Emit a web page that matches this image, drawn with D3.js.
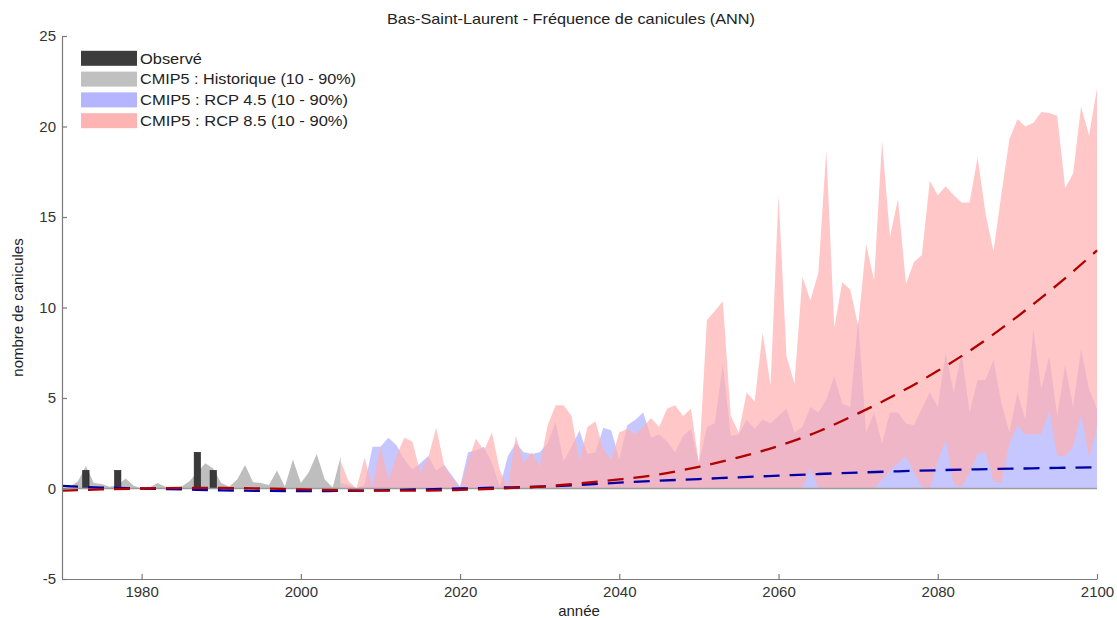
<!DOCTYPE html>
<html>
<head>
<meta charset="utf-8">
<script src="https://cdn.jsdelivr.net/npm/d3@7"></script>
<style>
  html, body { margin: 0; padding: 0; background: #fff; }
  svg { display: block; font-family: "Liberation Sans", Arial, Helvetica, sans-serif; }
</style>
</head>
<body>
<svg id="chart" width="1117" height="618"></svg>
<script>
// ---------------- DATA ----------------
const title = "Bas-Saint-Laurent - Fréquence de canicules (ANN)";
const xLabel = "année";
const yLabel = "nombre de canicules";
const xTicks = [1980, 2000, 2020, 2040, 2060, 2080, 2100];
const yTicks = [-5, 0, 5, 10, 15, 20, 25];

const legendLabels = ["Observé", "CMIP5 : Historique (10 - 90%)", "CMIP5 : RCP 4.5 (10 - 90%)", "CMIP5 : RCP 8.5 (10 - 90%)"];

// Observed heat waves
const obsYears  = [1973, 1977, 1987, 1989];
const obsValues = [1, 1, 2, 1];

// Historical CMIP5 10-90% band
const histYears = [1970,1971,1972,1973,1974,1975,1976,1977,1978,1979,
                   1980,1981,1982,1983,1984,1985,1986,1987,1988,1989,
                   1990,1991,1992,1993,1994,1995,1996,1997,1998,1999,
                   2000,2001,2002,2003,2004,2005];
const histUpper = [0.0,0.1,0.4,1.25,0.3,0.25,0.1,0.2,0.55,0.15,
                   0.0,0.05,0.3,0.1,0.05,0.1,0.4,0.9,1.4,1.1,
                   0.3,0.1,0.5,1.3,0.35,0.3,0.2,1.0,0.1,1.6,
                   0.3,0.9,1.9,0.5,0.05,1.75];
const histLower = [0,0,0,0,0,0,0,0,0,0,
                   0,0,0,0,0,0,0,0,0,0,
                   0,0,0,0,0,0,0,0,0,0,
                   0,0,0,0,0,0];

// Scenario years 2005..2100
const rcpYears = [2005,2006,2007,2008,2009,2010,2011,2012,2013,2014,
                  2015,2016,2017,2018,2019,2020,2021,2022,2023,2024,
                  2025,2026,2027,2028,2029,2030,2031,2032,2033,2034,
                  2035,2036,2037,2038,2039,2040,2041,2042,2043,2044,
                  2045,2046,2047,2048,2049,2050,2051,2052,2053,2054,
                  2055,2056,2057,2058,2059,2060,2061,2062,2063,2064,
                  2065,2066,2067,2068,2069,2070,2071,2072,2073,2074,
                  2075,2076,2077,2078,2079,2080,2081,2082,2083,2084,
                  2085,2086,2087,2088,2089,2090,2091,2092,2093,2094,
                  2095,2096,2097,2098,2099,2100];

const rcp85Upper = [1.5,0.4,0.0,1.7,0.1,2.3,0.5,1.8,2.8,2.6,
                    0.9,1.7,3.35,1.3,0.6,0.0,1.5,2.75,2.1,3.1,
                    1.0,0.1,2.9,1.4,2.0,1.2,3.5,4.6,4.6,4.0,
                    1.5,3.4,3.7,2.15,1.6,3.1,3.3,3.0,3.4,3.9,
                    3.4,4.4,4.6,4.0,4.4,1.4,9.3,9.8,10.35,4.0,
                    3.1,5.3,4.8,8.6,5.7,16.2,7.3,5.8,11.7,10.4,
                    11.9,18.7,8.9,11.4,11.0,9.0,13.5,11.5,19.2,13.9,
                    16.0,11.3,12.5,12.9,17.0,16.2,16.7,16.2,15.8,15.8,
                    18.3,15.2,13.1,16.3,19.3,20.4,20.0,20.2,20.8,20.75,
                    20.6,16.6,17.4,21.1,19.5,22.1];
const rcp85Lower = [0,0,0,0,0,0,0,0,0,0,
                    0,0,0,0,0,0,0,0,0,0,
                    0,0,0,0,0,0,0,0,0,0,
                    0,0,0,0,0,0,0,0,0,0,
                    0,0,0,0,0,0,0,0,0,0,
                    0,0,0,0,0,0,0,0,0,1.1,
                    0,0,0,0,0,0,0,0,0.5,1.0,
                    1.4,1.8,0.9,0.1,0,1.5,2.7,0.2,0.1,0.9,
                    1.9,2.0,0.4,0.3,2.5,3.5,3.0,3.0,3.0,4.3,
                    1.8,1.8,2.3,4.1,1.7,3.4];
const rcp45Upper = [0.3,0.2,0.0,0.2,2.3,2.3,2.8,2.4,1.6,1.05,
                    1.4,1.8,1.0,1.3,0.7,0.1,2.0,2.1,2.3,1.4,
                    0.1,1.8,2.5,2.0,1.9,2.0,2.5,3.7,1.5,2.3,
                    3.2,1.9,2.0,3.35,3.2,1.6,3.5,3.8,4.2,2.8,
                    3.0,2.6,2.0,2.9,3.3,1.4,3.4,3.6,6.9,2.9,
                    3.0,3.8,3.3,3.8,3.6,4.0,4.4,3.1,3.4,4.5,
                    4.2,4.9,6.2,4.7,4.5,9.3,3.1,4.2,2.5,4.2,
                    4.2,3.6,3.5,4.4,5.3,4.5,7.5,5.3,7.5,4.2,
                    6.0,6.0,7.1,4.7,3.1,5.3,3.8,8.8,5.5,7.3,
                    4.0,6.8,4.5,7.7,5.5,4.4];
const rcp45Lower = [0,0,0,0,0,0,0,0,0,0,
                    0,0,0,0,0,0,0,0,0,0,
                    0,0,0,0,0,0,0,0,0,0,
                    0,0,0,0,0,0,0,0,0,0,
                    0,0,0,0,0,0,0,0,0,0,
                    0,0,0,0,0,0,0,0,0,0,
                    0,0,0,0,0,0,0,0,0,0,
                    0,0,0,0,0,0,0,0,0,0,
                    0,0,0,0,0,0,0,0,0,0,
                    0,0,0,0,0,0];

// Ensemble mean trend lines (dashed)
const meanYears = [1970,1975,1980,1985,1990,1995,2000,2005,2010,2015,2020,2025,2030,2035,
                   2040,2045,2050,2055,2060,2065,2070,2075,2080,2085,2090,2095,2100];
const mean45 = [0.15,0.05,0.0,-0.05,-0.1,-0.13,-0.15,-0.13,-0.1,-0.05,0.0,0.05,0.1,0.2,
                0.32,0.43,0.52,0.62,0.71,0.8,0.88,0.95,1.01,1.06,1.1,1.14,1.17];
const mean85 = [-0.12,-0.05,0.0,0.03,0.03,0.0,-0.05,-0.1,-0.12,-0.12,-0.08,0.0,0.1,0.28,
                0.5,0.78,1.2,1.72,2.35,3.15,4.15,5.25,6.5,7.9,9.5,11.25,13.15];

// ---------------- DRAW ----------------
(function () {
const svg = d3.select("#chart");
svg.append("rect").attr("width", 1117).attr("height", 618).attr("fill", "#fff");

const mLeft = 62, mRight = 1097, mTop = 36, mBottom = 579;
const x = d3.scaleLinear().domain([1970, 2100]).range([mLeft, mRight]);
const y = d3.scaleLinear().domain([-5, 25]).range([mBottom, mTop]);

const zip = (xs, lo, hi) => xs.map((v, i) => ({x: v, lo: lo[i], hi: hi[i]}));
const band = d3.area().x(d => x(d.x)).y0(d => y(d.lo)).y1(d => y(d.hi));

const g = svg.append("g");

// Historical band
g.append("path").datum(zip(histYears, histLower, histUpper))
  .attr("d", band).attr("fill", "#bebebe");

// RCP 4.5 band
g.append("path").datum(zip(rcpYears, rcp45Lower, rcp45Upper))
  .attr("d", band).attr("fill", "rgb(130,130,255)").attr("fill-opacity", 0.45);

// RCP 8.5 band
g.append("path").datum(zip(rcpYears, rcp85Lower, rcp85Upper))
  .attr("d", band).attr("fill", "rgb(255,175,175)").attr("fill-opacity", 0.7);

// Observed bars
const barW = x(1970.8) - x(1970);
g.selectAll("rect.obs").data(obsYears.map((v, i) => ({x: v, v: obsValues[i]})))
  .enter().append("rect")
  .attr("x", d => x(d.x) - barW / 2)
  .attr("y", d => y(d.v))
  .attr("width", barW)
  .attr("height", d => y(0) - y(d.v))
  .attr("fill", "#3a3a3a")
  .attr("stroke", "#222")
  .attr("stroke-width", 0.6);

// Zero line
g.append("line")
  .attr("x1", mLeft).attr("x2", mRight)
  .attr("y1", y(0)).attr("y2", y(0))
  .attr("stroke", "#9a9a9a").attr("stroke-width", 1.6);

// Mean lines
const line = d3.line().x(d => x(d.x)).y(d => y(d.v)).curve(d3.curveMonotoneX);
g.append("path").datum(meanYears.map((v, i) => ({x: v, v: mean45[i]})))
  .attr("d", line).attr("fill", "none")
  .attr("stroke", "#0000a8").attr("stroke-width", 2.3).attr("stroke-dasharray", "16,10");
g.append("path").datum(meanYears.map((v, i) => ({x: v, v: mean85[i]})))
  .attr("d", line).attr("fill", "none")
  .attr("stroke", "#b00000").attr("stroke-width", 2.3).attr("stroke-dasharray", "16,10");

// Axes
const axisColor = "#7a7a7a";
const fmt = d => String(d);
const yAxis = svg.append("g").attr("transform", `translate(${mLeft},0)`)
  .call(d3.axisLeft(y).tickValues(yTicks).tickSizeInner(-5).tickSizeOuter(0).tickPadding(6).tickFormat(fmt));
const xAxis = svg.append("g").attr("transform", `translate(0,${mBottom})`)
  .call(d3.axisBottom(x).tickValues(xTicks).tickSizeInner(-5).tickSizeOuter(0).tickPadding(7).tickFormat(fmt));
[xAxis, yAxis].forEach(a => {
  a.select(".domain").attr("stroke", axisColor).attr("stroke-width", 1.2);
  a.selectAll(".tick line").attr("stroke", axisColor).attr("stroke-width", 1.2);
  a.selectAll(".tick text").attr("fill", "#333").attr("font-size", 15)
   .attr("font-family", "'Liberation Sans', Arial, sans-serif");
});

// Titles
svg.append("text").attr("x", 571).attr("y", 24).attr("text-anchor", "middle")
  .attr("font-size", 15).attr("fill", "#222")
  .attr("textLength", 368).attr("lengthAdjust", "spacingAndGlyphs").text(title);
svg.append("text").attr("x", 579).attr("y", 616).attr("text-anchor", "middle")
  .attr("font-size", 15).attr("fill", "#222").text(xLabel);
svg.append("text").attr("transform", `translate(23,${(mTop + mBottom) / 2}) rotate(-90)`)
  .attr("text-anchor", "middle").attr("font-size", 15).attr("fill", "#222").text(yLabel);

// Legend
const legendColors = ["#3c3c3c", "#c0c0c0", "#b4b4ff", "#ffb4b4"];
const legendWidths = [62, 216, 208, 208];
const lg = svg.append("g");
legendLabels.forEach((t, i) => {
  const cy = 58.3 + i * 20.8;
  lg.append("rect").attr("x", 81).attr("y", cy - 7.5).attr("width", 56).attr("height", 15)
    .attr("fill", legendColors[i]);
  lg.append("text").attr("x", 140).attr("y", cy + 5.3).attr("font-size", 15)
    .attr("fill", "#222")
    .attr("textLength", legendWidths[i]).attr("lengthAdjust", "spacingAndGlyphs").text(t);
});
})();
</script>
</body>
</html>
